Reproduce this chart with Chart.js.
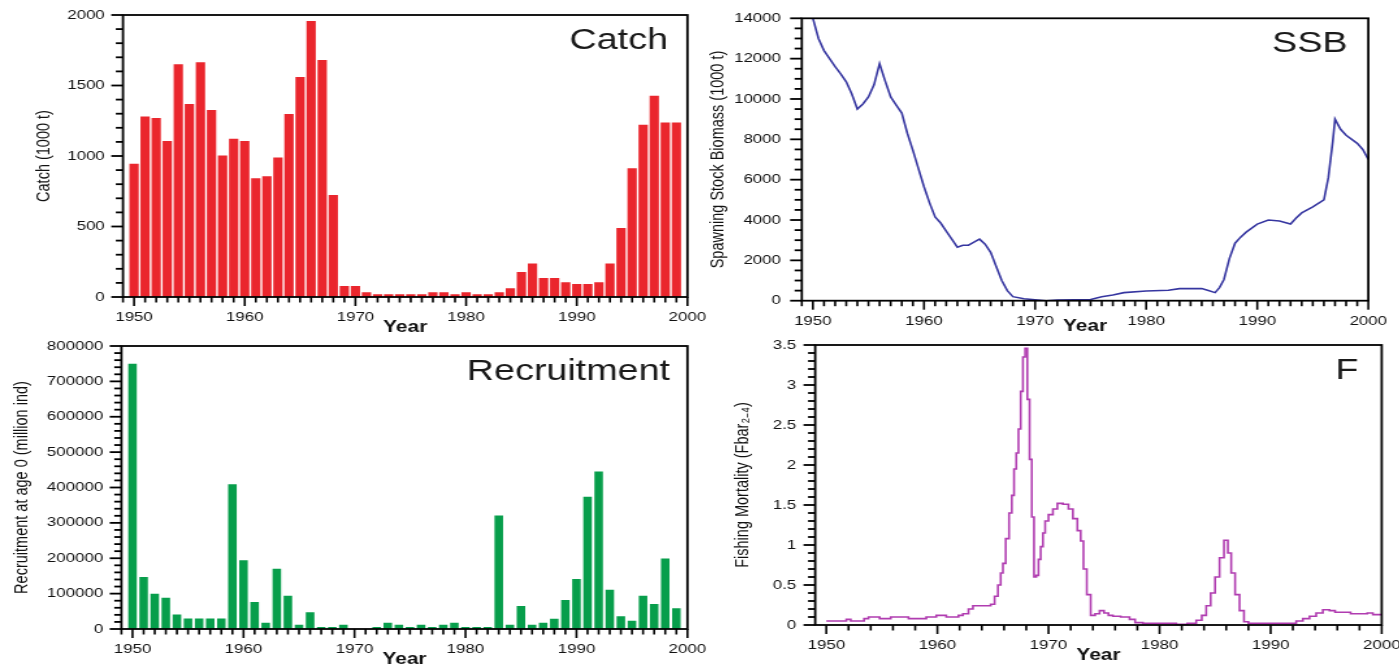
<!DOCTYPE html>
<html>
<head>
<meta charset="utf-8">
<script src="https://cdn.jsdelivr.net/npm/chart.js@4.4.1/dist/chart.umd.min.js"></script>
<style>
  html, body { margin: 0; padding: 0; background: #fff; overflow: hidden; width: 1399px; height: 667px; }
  .panel { position: absolute; height: 345px; transform: scaleX(1.3); transform-origin: 0 0; }
</style>
</head>
<body>
<div class="panel" style="left:0px;top:0px;width:550px"><canvas id="catch"></canvas></div>
<div class="panel" style="left:700px;top:0px;width:540px"><canvas id="ssb"></canvas></div>
<div class="panel" style="left:0px;top:335px;width:550px"><canvas id="recr"></canvas></div>
<div class="panel" style="left:700px;top:335px;width:550px"><canvas id="fmort"></canvas></div>
<script>
// ---- data ----
const years = [];
for (let y = 1950; y <= 1999; y++) years.push(y);

// catch, 1000 t
const catchVals = [945, 1281, 1269, 1106, 1651, 1369, 1665, 1326, 1004, 1122,
  1106, 842, 856, 989, 1298, 1561, 1957, 1680, 724, 78,
  78, 33, 19, 19, 19, 19, 19, 33, 33, 19,
  33, 19, 19, 33, 62, 178, 237, 135, 135, 104,
  93, 93, 104, 237, 489, 913, 1222, 1428, 1238, 1238];

// recruitment at age 0, million ind
const recrVals = [750000, 147000, 100000, 88000, 41000, 30000, 30000, 30000, 30000, 409000,
  194000, 76000, 18000, 170000, 94000, 12000, 47000, 6000, 6000, 12000,
  0, 0, 6000, 18000, 12000, 6000, 12000, 6000, 12000, 18000,
  6000, 6000, 6000, 321000, 12000, 65000, 12000, 18000, 29000, 82000,
  141000, 374000, 445000, 111000, 36000, 23000, 94000, 71000, 199000, 59000];

// spawning stock biomass, 1000 t
const ssbYears = [1950, 1950.5, 1951, 1951.5, 1952, 1952.5, 1953, 1953.5, 1954, 1954.5,
  1955, 1955.5, 1956, 1956.5, 1957, 1957.5, 1958, 1958.5, 1959, 1959.5,
  1960, 1960.5, 1961, 1961.5, 1962, 1962.5, 1963, 1963.5, 1964, 1964.5,
  1965, 1965.5, 1966, 1966.5, 1967, 1967.5, 1968, 1969, 1970, 1971,
  1972, 1975, 1976, 1977, 1978, 1980, 1982, 1983, 1985, 1985.6,
  1986.2, 1986.6, 1987, 1987.5, 1988, 1988.5, 1989, 1990, 1991, 1992,
  1993, 1993.5, 1994, 1995, 1996, 1996.4, 1996.8, 1997, 1997.5, 1998,
  1999, 1999.5, 2000];
const ssbVals = [14000, 13000, 12400, 12000, 11600, 11250, 10850, 10250, 9500, 9750,
  10100, 10700, 11750, 10900, 10100, 9700, 9300, 8300, 7450, 6550,
  5650, 4850, 4150, 3850, 3450, 3050, 2650, 2750, 2750, 2900,
  3050, 2800, 2400, 1700, 1000, 500, 200, 100, 50, 0,
  30, 60, 200, 280, 400, 480, 520, 600, 600, 500,
  400, 650, 1050, 2100, 2850, 3150, 3400, 3800, 4000, 3950,
  3800, 4100, 4350, 4650, 5000, 6100, 7900, 9000, 8500, 8200,
  7800, 7500, 7000];

// fishing mortality
const fYears = [1950, 1951.6, 1952, 1952.4, 1953.2, 1953.6, 1954, 1954.6, 1955, 1955.6,
  1956, 1957.2, 1957.6, 1958.8, 1959.2, 1959.8, 1960, 1960.6, 1961, 1961.8,
  1962, 1962.6, 1963, 1963.4, 1964.6, 1965, 1965.3, 1965.6, 1965.8, 1966,
  1966.3, 1966.6, 1966.8, 1967, 1967.2, 1967.4, 1967.6, 1967.8, 1968, 1968.2,
  1968.4, 1968.6, 1968.8, 1969, 1969.2, 1969.4, 1969.6, 1969.8, 1970.2, 1970.6,
  1971, 1971.6, 1972, 1972.4, 1972.8, 1973, 1973.3, 1973.6, 1974, 1974.4,
  1974.8, 1975.2, 1975.6, 1976, 1977, 1977.6, 1978, 1979, 1980, 1981,
  1982, 1983, 1983.6, 1984, 1984.4, 1984.8, 1985.2, 1985.6, 1986, 1986.3,
  1986.6, 1987, 1987.4, 1987.8, 1988.2, 1990, 1992, 1992.6, 1993.2, 1993.8,
  1994.4, 1995, 1995.6, 1996, 1997, 1997.4, 1998.4, 1999, 1999.4, 2000];
const fVals = [0.05, 0.05, 0.07, 0.05, 0.05, 0.08, 0.10, 0.10, 0.08, 0.08,
  0.10, 0.10, 0.08, 0.08, 0.10, 0.10, 0.12, 0.12, 0.10, 0.10,
  0.12, 0.14, 0.20, 0.24, 0.24, 0.26, 0.36, 0.50, 0.65, 0.77,
  1.08, 1.40, 1.62, 1.95, 2.15, 2.45, 2.92, 3.35, 3.46, 2.82,
  2.07, 1.35, 0.60, 0.62, 0.82, 0.98, 1.15, 1.30, 1.38, 1.45,
  1.52, 1.51, 1.45, 1.33, 1.18, 1.05, 0.70, 0.38, 0.12, 0.14,
  0.18, 0.15, 0.12, 0.11, 0.10, 0.07, 0.03, 0.02, 0.02, 0.02,
  0.01, 0.02, 0.06, 0.12, 0.24, 0.40, 0.60, 0.84, 1.06, 0.90,
  0.65, 0.38, 0.18, 0.04, 0.02, 0.02, 0.02, 0.05, 0.08, 0.11,
  0.15, 0.19, 0.18, 0.16, 0.16, 0.14, 0.14, 0.15, 0.13, 0.13];

const FONT = '"Liberation Sans", Arial, Helvetica, sans-serif';

// frame, all tick marks and panel label (one plugin per chart)
function framePlugin(f) {
  return {
    id: 'frame_' + f.label,
    afterDraw(chart) {
      const ctx = chart.ctx;
      const a = chart.chartArea;
      const xs = chart.scales.x, ys = chart.scales.y;
      ctx.save();
      ctx.fillStyle = '#000';
      // tick marks as filled rectangles
      const nx = Math.round((2000 - f.xStart) / f.xMinor);
      for (let i = 0; i <= nx; i++) {
        const v = f.xStart + i * f.xMinor;
        const px = xs.getPixelForValue(v);
        const len = v % 10 === 0 ? 9 : 5.5;
        ctx.fillRect(px - 0.8, a.bottom, 1.6, len);
      }
      const ny = Math.round(f.yMax / f.yMinor);
      for (let i = 0; i <= ny; i++) {
        const v = i * f.yMinor;
        const py = ys.getPixelForValue(v);
        const r = v / f.yStep;
        const len = Math.abs(r - Math.round(r)) < 1e-6 ? 9 : 5.5;
        ctx.fillRect(a.left - len, py - 0.9, len, 1.8);
      }
      ctx.strokeStyle = '#000';
      ctx.lineWidth = 1.8;
      ctx.strokeRect(a.left, a.top, a.right - a.left, a.bottom - a.top);
      ctx.font = '29px ' + FONT;
      ctx.fillStyle = '#1a1a1a';
      ctx.textAlign = 'right';
      ctx.textBaseline = 'alphabetic';
      ctx.fillText(f.label, a.right - f.labelDx, a.top + 34);
      ctx.restore();
    }
  };
}

function makeChart(id, p) {
  const f = p.frame;
  new Chart(document.getElementById(id), {
    type: p.type,
    data: { datasets: [p.dataset] },
    plugins: [framePlugin(f)],
    options: {
      responsive: true,
      maintainAspectRatio: false,
      animation: false,
      layout: { padding: p.pad },
      plugins: {
        legend: { display: false },
        tooltip: { enabled: false }
      },
      scales: {
        x: {
          type: 'linear',
          offset: false,
          min: 1949, max: 2000,
          afterFit(s) { s.height = p.xh; s.paddingLeft = 0; s.paddingRight = 0; s.paddingTop = 0; s.paddingBottom = 0; },
          border: { display: false },
          grid: { display: false, drawTicks: true, tickLength: 9 },
          ticks: {
            stepSize: 10, includeBounds: false, maxRotation: 0, autoSkip: false,
            padding: 3.5, color: '#111', font: { family: FONT, size: 13 },
            callback: v => String(v)
          },
          title: {
            display: true, text: 'Year', color: '#111',
            font: { family: FONT, size: 16, weight: 'bold' },
            padding: { top: 0, bottom: 0 }
          }
        },
        y: {
          min: 0, max: f.yMax,
          afterFit(s) { s.width = p.yw; s.paddingLeft = 0; s.paddingRight = 0; s.paddingTop = 0; s.paddingBottom = 0; },
          border: { display: false },
          grid: { display: false, drawTicks: true, tickLength: 9 },
          ticks: {
            stepSize: f.yStep, includeBounds: false, autoSkip: false,
            padding: p.yTickPad, color: '#111', font: { family: FONT, size: 13 },
            callback: v => String(Math.round(v * 10) / 10)
          },
          title: {
            display: true, text: p.yTitle, color: '#111',
            font: { family: FONT, size: 14.5 },
            padding: { top: p.yTitlePad, bottom: 0 }
          }
        }
      }
    }
  });
}

makeChart('catch', {
  type: 'bar',
  dataset: {
    data: years.map((yr, i) => ({ x: yr, y: catchVals[i] })),
    backgroundColor: '#ea262d', borderWidth: 0,
    barPercentage: 0.84, categoryPercentage: 1
  },
  pad: { left: 0, right: 21.2, top: 15, bottom: 8 },
  xh: 40, yw: 94.6, yTickPad: 5,
  yTitle: 'Catch (1000 t)', yTitlePad: 24.8,
  frame: { xStart: 1949, xMinor: 1, yMax: 2000, yStep: 500, yMinor: 100, label: 'Catch', labelDx: 15 }
});

makeChart('ssb', {
  type: 'line',
  dataset: {
    data: ssbYears.map((yr, i) => ({ x: yr, y: ssbVals[i] })),
    borderColor: '#3636a0', borderWidth: 1.6, pointRadius: 0, tension: 0, fill: false
  },
  pad: { left: 0, right: 25.9, top: 18.3, bottom: 8.4 },
  xh: 35.9, yw: 78.3, yTickPad: 7,
  yTitle: 'Spawning Stock Biomass (1000 t)', yTitlePad: 5.5,
  frame: { xStart: 1949, xMinor: 1, yMax: 14000, yStep: 2000, yMinor: 500, label: 'SSB', labelDx: 16 }
});

makeChart('recr', {
  type: 'bar',
  dataset: {
    data: years.map((yr, i) => ({ x: yr, y: recrVals[i] })),
    backgroundColor: '#079e4b', borderWidth: 0,
    barPercentage: 0.77, categoryPercentage: 1
  },
  pad: { left: 0, right: 21.2, top: 11, bottom: 10.4 },
  xh: 40.6, yw: 93.4, yTickPad: 5,
  yTitle: 'Recruitment at age 0 (million ind)', yTitlePad: 8.5,
  frame: { xStart: 1949, xMinor: 1, yMax: 800000, yStep: 100000, yMinor: 20000, label: 'Recruitment', labelDx: 13.4 }
});

makeChart('fmort', {
  type: 'line',
  dataset: {
    data: fYears.map((yr, i) => ({ x: yr, y: fVals[i] })),
    borderColor: '#b03cb0', borderWidth: 1.6, pointRadius: 0, stepped: 'middle', fill: false
  },
  pad: { left: 0, right: 25.6, top: 10, bottom: 14.6 },
  xh: 40.4, yw: 88.6, yTickPad: 5.6,
  yTitle: 'Fishing Mortality (Fbar\u2082\u208B\u2084)', yTitlePad: 23.9,
  frame: { xStart: 1950, xMinor: 2, yMax: 3.5, yStep: 0.5, yMinor: 0.1, label: 'F', labelDx: 17.9 }
});
</script>
</body>
</html>
